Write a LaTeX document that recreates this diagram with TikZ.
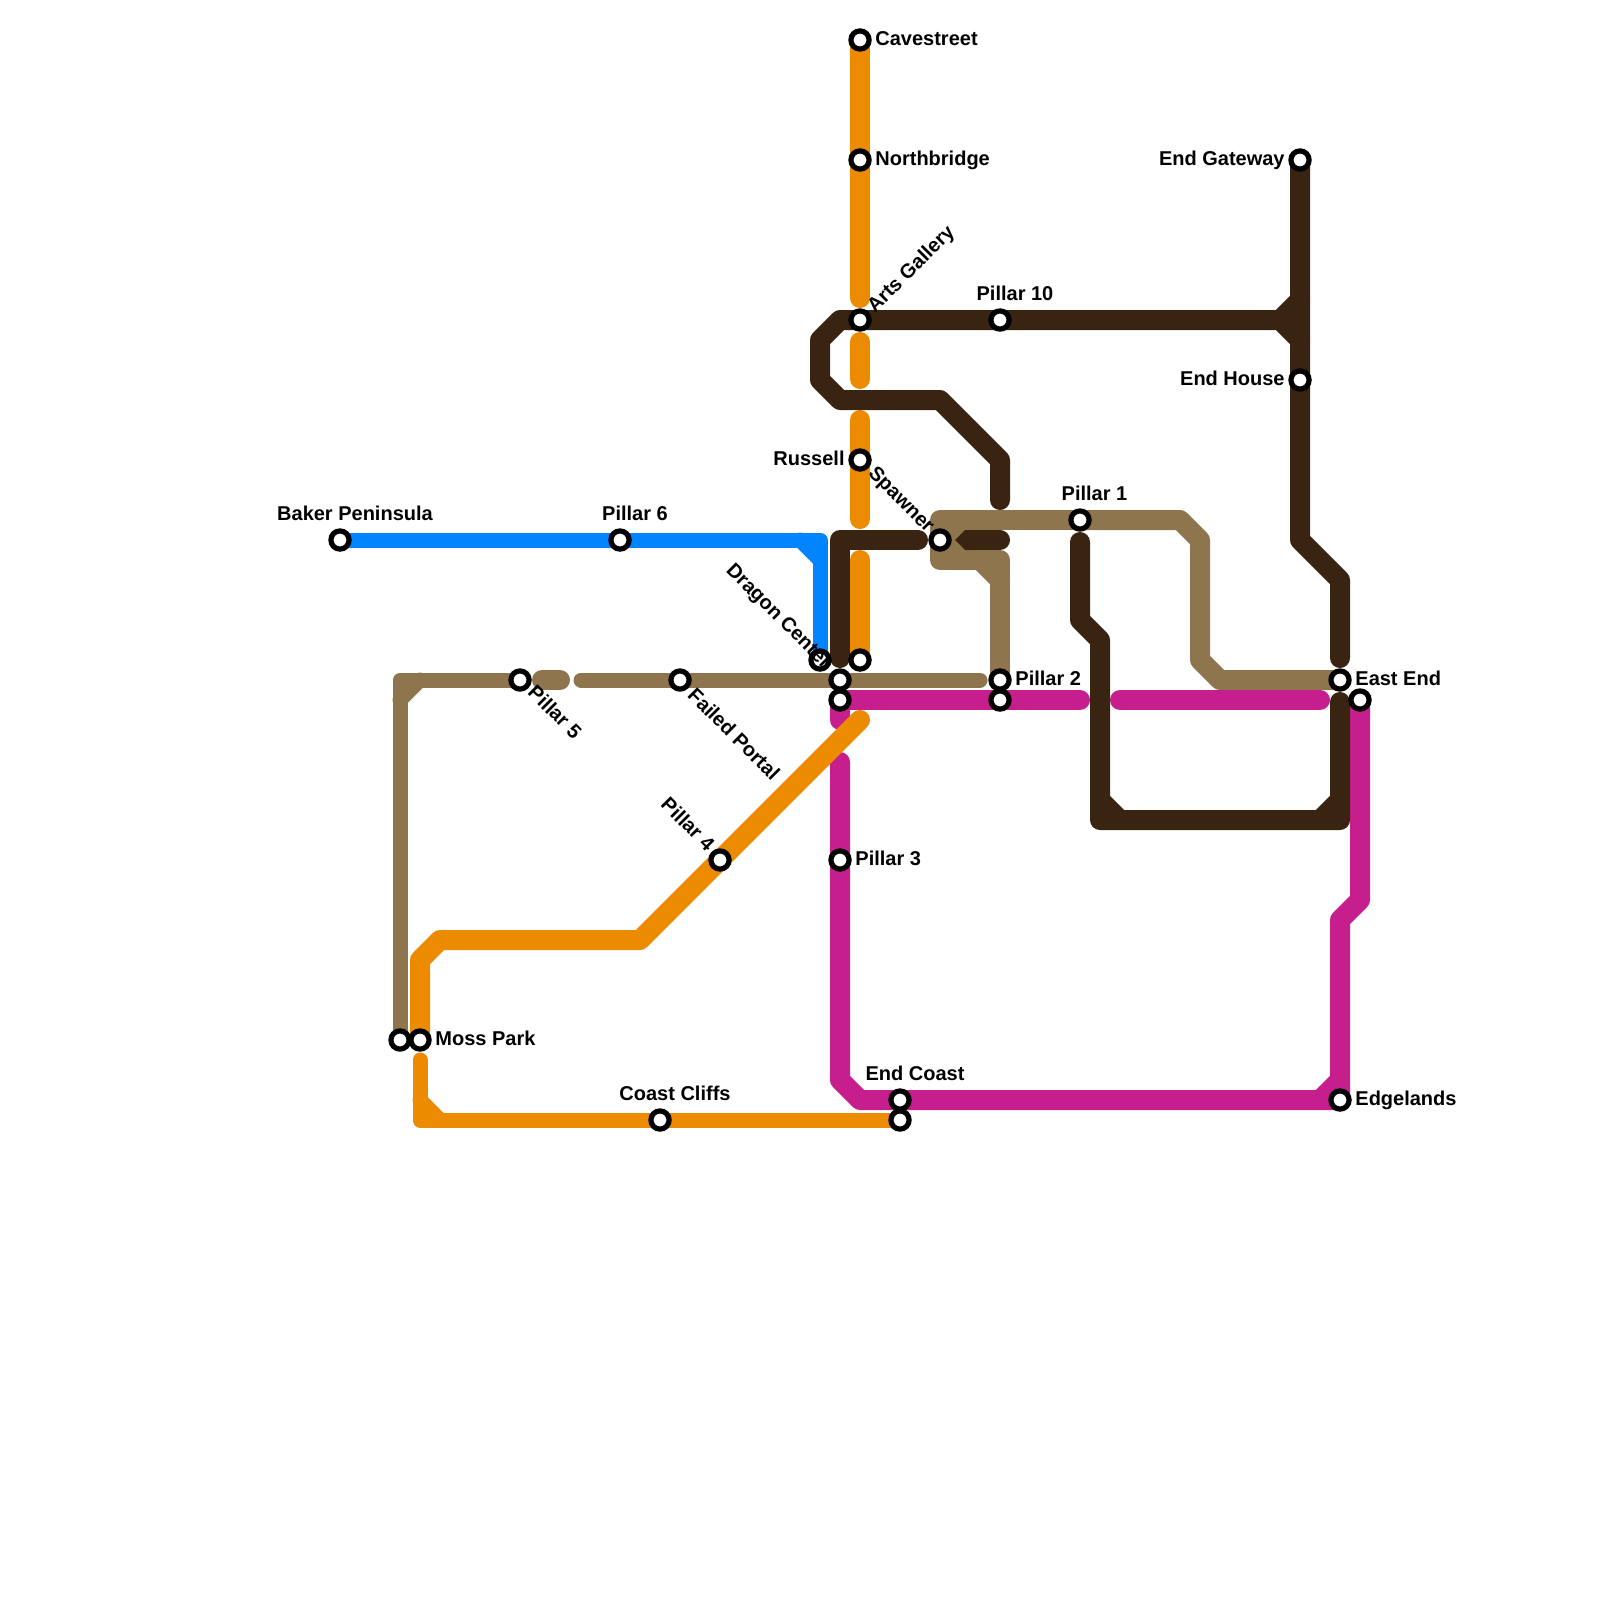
\documentclass[tikz,border=0pt]{standalone}
\usepackage{fontspec}
\setmainfont{Liberation Sans}
\usepackage{xcolor}
\usepackage{tikz}
\usetikzlibrary{backgrounds}
\definecolor{MetroBlue}{RGB}{0,132,255}
\definecolor{MetroTan}{RGB}{143,117,77}
\definecolor{MetroOrange}{RGB}{236,138,0}
\definecolor{MetroDark}{RGB}{56,36,17}
\definecolor{MetroMagenta}{RGB}{198,31,141}
\begin{document}
\begin{tikzpicture}[
    x=0.5pt,y=-0.5pt,
    station/.style={circle, draw=black, fill=white, line width=2.6pt, minimum size=9.1pt, inner sep=0pt},
    lab/.style={inner sep=0pt, text height=7pt, text depth=0pt, font=\fontsize{10}{12}\selectfont\bfseries},
    wide/.style={line width=10pt, line cap=round, line join=round},
    thin line/.style={line width=7.5pt, line cap=round, line join=round},
    blueline/.style={thin line, draw=MetroBlue},
    tanthin/.style={thin line, draw=MetroTan},
    tanline/.style={wide, draw=MetroTan},
    magline/.style={wide, draw=MetroMagenta},
    orangeline/.style={wide, draw=MetroOrange},
    orangethin/.style={thin line, draw=MetroOrange},
    darkline/.style={wide, draw=MetroDark}
  ]
    \useasboundingbox (0,0) rectangle (1600,1600);
    \foreach \name/\x/\y in {cave/860/40,north/860/160,arts/860/320,pten/1000/320,russell/860/460,spawner/940/540,pone/1080/520,baker/340/540,psix/620/540,dragon/820/660,orangeend/860/660,midtan/840/680,midmag/840/700,portal/680/680,pfive/520/680,ptwo/1000/680,ptwomag/1000/700,pthree/840/860,pfour/720/860,moss/420/1040,mosstan/400/1040,cliffs/660/1120,coast/900/1100,coastor/900/1120,east/1340/680,eastmag/1360/700,edge/1340/1100,gateway/1300/160,house/1300/380} {
      \node[station] (\name) at (\x,\y) {};
    }
    % labels
    \foreach \name/\x/\y/\anc/\rot/\lab in {
      lcave/875/38.5/west/0/Cavestreet,lnorth/875/158.5/west/0/Northbridge,
      larts/870/309/west/45/Arts Gallery,lpten/1015/293/center/0/Pillar 10,
      lrussell/845/458.5/east/0/Russell,lspawner/902/499/center/-45/Spawner,
      lpone/1094.5/493/center/0/Pillar 1,lbaker/355/513/center/0/Baker Peninsula,
      lpsix/635/513/center/0/Pillar 6,ldragon/779.5/615.5/center/-45/Dragon Center,
      lpfive/555/712/center/-45/Pillar 5,lportal/734/734/center/-45/Failed Portal,
      lpfour/688/824/center/-45/Pillar 4,lptwo/1015/678.5/west/0/Pillar 2,
      lpthree/855/858.5/west/0/Pillar 3,lmoss/435/1038.5/west/0/Moss Park,
      lcliffs/675/1093/center/0/Coast Cliffs,lcoast/915/1073/center/0/End Coast,
      least/1355/678.5/west/0/East End,ledge/1355/1098.5/west/0/Edgelands,
      lgateway/1285/158.5/east/0/End Gateway,lhouse/1285/378.5/east/0/End House} {
      \node[lab, anchor=\anc, rotate=\rot] (\name) at (\x,\y) {\lab};
    }
    \begin{scope}[on background layer]
      % blue
      \draw[blueline] (baker.center) -- (820,540) -- (820,658);
      \draw[blueline] (800,540) -- (820,560);
      % tan
      \draw[tanthin] (mosstan.center) -- (400,680) -- (pfive.center);
      \draw[tanthin] (400,700) -- (420,680);
      \draw[tanline] (542,680) -- (560,680);
      \draw[tanthin] (581,680) -- (980,680);
      \draw[tanline] (pone.center) -- (940,520) -- (940,560) -- (1000,560) -- (ptwo.center);
      \draw[tanline] (980,560) -- (1000,580);
      \draw[tanline] (940,540) -- (970,540);
      \draw[tanline] (pone.center) -- (1180,520) -- (1200,540) -- (1200,660) -- (1220,680) -- (east.center);
      % magenta
      \draw[magline] (840,720) -- (midmag.center) -- (1080,700);
      \draw[magline] (1120,700) -- (1320,700);
      \draw[magline] (840,762) -- (840,1080) -- (860,1100) -- (edge.center) -- (1340,920) -- (1360,900) -- (eastmag.center);
      \draw[magline] (1320,1100) -- (1340,1080);
      % orange
      \draw[orangeline] (cave.center) -- (860,298);
      \draw[orangeline] (860,342) -- (860,379);
      \draw[orangeline] (860,420) -- (860,519);
      \draw[orangeline] (860,560) -- (orangeend.center);
      \draw[orangeline] (860,720) -- (640,940) -- (440,940) -- (420,960) -- (moss.center);
      \draw[orangethin] (420,1060) -- (420,1120) -- (coastor.center);
      \draw[orangethin] (420,1100) -- (440,1120);
      % dark
      \draw[darkline] (1000,500) -- (1000,460) -- (940,400) -- (840,400) -- (820,380) -- (820,340) -- (840,320) -- (1300,320);
      \draw[darkline] (1300,300) -- (1280,320) -- (1300,340);
      \draw[darkline] (gateway.center) -- (1300,540) -- (1340,580) -- (1340,658);
      \draw[darkline] (918,540) -- (840,540) -- (840,658);
      \draw[darkline] (970,540) -- (1000,540);
      \fill[MetroDark] (955,540) -- (965,530) -- (975,530) -- (975,550) -- (965,550) -- cycle;
      \draw[darkline] (1080,542) -- (1080,620) -- (1100,640) -- (1100,820) -- (1340,820) -- (1340,702);
      \draw[darkline] (1100,800) -- (1120,820);
      \draw[darkline] (1320,820) -- (1340,800);
    \end{scope}
  \end{tikzpicture}
\end{document}
